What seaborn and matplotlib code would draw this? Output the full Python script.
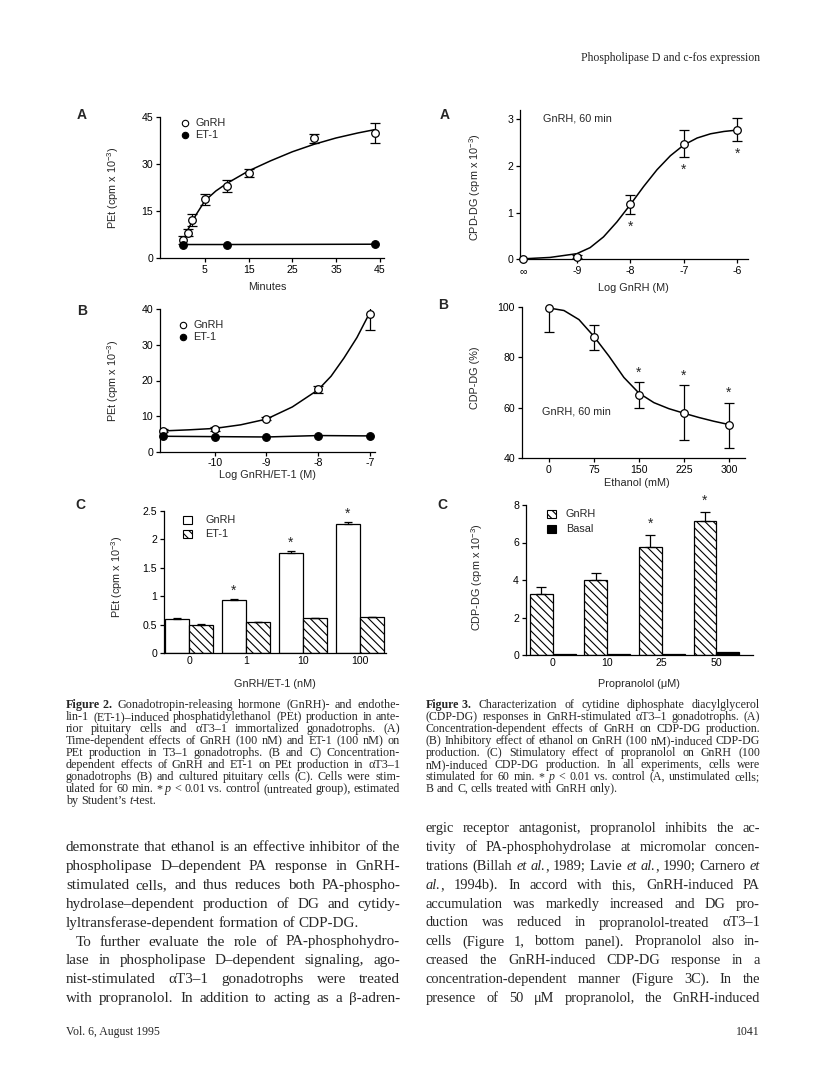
import numpy as np
import pandas as pd
import matplotlib
matplotlib.use("Agg")
import matplotlib.pyplot as plt
from matplotlib import transforms
from matplotlib.lines import Line2D
from matplotlib.patches import Rectangle
import seaborn as sns

# ---------------- data ----------------
# Fig 2A: PEt vs time (cpm x 10^-3)
time_min = [0, 1, 2, 5, 10, 15, 30, 44]
pet_gnrh_time = [5.7, 8.1, 12.1, 18.7, 23.0, 27.2, 38.2, 40.0]
pet_gnrh_time_err = [1.3, 1.0, 1.8, 1.8, 2.0, 1.3, 1.5, 3.2]
et1_time_min = [0, 10, 44]
pet_et1_time = [4.3, 4.3, 4.4]
fit_time_min = [0.7, 1, 2, 3, 5, 7.5, 10, 15, 20, 25, 30, 35, 40, 44]
fit_pet_time = [8.0, 8.8, 11.4, 13.9, 18.3, 21.4, 23.8, 27.8, 31.0, 33.9, 36.3, 38.3, 39.9, 41.0]

# Fig 2B: PEt vs log dose
log_dose = [-11, -10, -9, -8, -7]
pet_gnrh_dose = [6.0, 6.5, 9.3, 17.6, 38.5]
pet_gnrh_dose_err = [0.3, 0.5, 0.4, 1.0, 4.4]
pet_et1_dose = [4.4, 4.3, 4.2, 4.6, 4.5]
fit_log_dose = [-11, -10.5, -10, -9.5, -9, -8.5, -8, -7.75, -7.5, -7.25, -7.05]
fit_pet_dose = [5.9, 6.2, 6.6, 7.6, 9.2, 12.6, 17.4, 21.2, 26.3, 32.0, 37.6]

# Fig 2C: PEt in pituitary cells (bars)
dose_nm = ["0", "1", "10", "100"]
pet_gnrh_bar = [0.60, 0.93, 1.76, 2.27]
pet_gnrh_bar_err = [0.01, 0.02, 0.03, 0.04]
pet_et1_bar = [0.50, 0.54, 0.62, 0.63]
pet_et1_bar_err = [0.005, 0.005, 0.005, 0.005]
stars_2c = ["1", "10", "100"]

# Fig 3A: CDP-DG vs log GnRH
log_gnrh = [-10, -9, -8, -7, -6]
log_gnrh_labels = ["\u221e", "-9", "-8", "-7", "-6"]
cdp_gnrh = [0.0, 0.06, 1.18, 2.48, 2.78]
cdp_gnrh_err = [0.0, 0.03, 0.20, 0.29, 0.24]
stars_3a = [-8, -7, -6]
fit_log_gnrh = [-10, -9.5, -9, -8.75, -8.5, -8.25, -8, -7.75, -7.5, -7.25, -7, -6.75, -6.5, -6.25, -6]
fit_cdp_gnrh = [0.01, 0.04, 0.12, 0.25, 0.48, 0.80, 1.17, 1.56, 1.92, 2.22, 2.45, 2.60, 2.69, 2.74, 2.77]

# Fig 3B: CDP-DG (%) vs ethanol
ethanol_mm = [0, 75, 150, 225, 300]
cdp_pct = [99.5, 88.0, 65.0, 58.0, 53.0]
cdp_pct_err = [9.5, 5.0, 5.0, 11.0, 9.0]
stars_3b = [150, 225, 300]
fit_ethanol_mm = [0, 25, 50, 75, 100, 125, 150, 175, 200, 225, 250, 275, 300]
fit_cdp_pct = [99.6, 98.6, 95.0, 88.3, 80.5, 72.0, 65.8, 62.0, 59.6, 57.8, 56.1, 54.6, 53.3]

# Fig 3C: CDP-DG vs propranolol (bars)
propranolol_um = ["0", "10", "25", "50"]
cdp_prop_gnrh = [3.25, 4.00, 5.78, 7.15]
cdp_prop_gnrh_err = [0.40, 0.38, 0.62, 0.50]
cdp_prop_basal = [0.05, 0.05, 0.08, 0.18]
stars_3c = ["25", "50"]

# ---------------- page text ----------------
header = "Phospholipase D and c-fos expression"
footer_left = "Vol. 6, August 1995"
footer_right = "1041"

# '#' bold, '_' italic, '~' glues pieces of one word
caption_fig2 = [
    "#Figure~#\u00a02. Gonadotropin-releasing hormone (GnRH)- and endothe-",
    "lin-1 (ET-1)\u2013induced phosphatidylethanol (PEt) production in ante-",
    "rior pituitary cells and \u03b1T3\u20131 immortalized gonadotrophs. (A)",
    "Time-dependent effects of GnRH (100 nM) and ET-1 (100 nM) on",
    "PEt production in T3\u20131 gonadotrophs. (B and C) Concentration-",
    "dependent effects of GnRH and ET-1 on PEt production in \u03b1T3\u20131",
    "gonadotrophs (B) and cultured pituitary cells (C). Cells were stim-",
    "ulated for 60 min. * _p < 0.01 vs. control (untreated group), estimated",
    "by Student\u2019s _t~-test.",
]
caption_fig3 = [
    "#Figure~#\u00a03. Characterization of cytidine diphosphate diacylglycerol",
    "(CDP-DG) responses in GnRH-stimulated \u03b1T3\u20131 gonadotrophs. (A)",
    "Concentration-dependent effects of GnRH on CDP-DG production.",
    "(B) Inhibitory effect of ethanol on GnRH (100 nM)-induced CDP-DG",
    "production. (C) Stimulatory effect of propranolol on GnRH (100",
    "nM)-induced CDP-DG production. In all experiments, cells were",
    "stimulated for 60 min. * _p < 0.01 vs. control (A, unstimulated cells;",
    "B and C, cells treated with GnRH only).",
]
body_left = [
    "demonstrate that ethanol is an effective inhibitor of the",
    "phospholipase D\u2013dependent PA response in GnRH-",
    "stimulated cells, and thus reduces both PA-phospho-",
    "hydrolase\u2013dependent production of DG and cytidy-",
    "lyltransferase-dependent formation of CDP-DG.",
    "To further evaluate the role of PA-phosphohydro-",
    "lase in phospholipase D\u2013dependent signaling, ago-",
    "nist-stimulated \u03b1T3\u20131 gonadotrophs were treated",
    "with propranolol. In addition to acting as a \u03b2-adren-",
]
body_right = [
    "ergic receptor antagonist, propranolol inhibits the ac-",
    "tivity of PA-phosphohydrolase at micromolar concen-",
    "trations (Billah _et _al.~, 1989; Lavie _et _al.~, 1990; Carnero _et",
    "_al.~, 1994b). In accord with this, GnRH-induced PA",
    "accumulation was markedly increased and DG pro-",
    "duction was reduced in propranolol-treated \u03b1T3\u20131",
    "cells (Figure 1, bottom panel). Propranolol also in-",
    "creased the GnRH-induced CDP-DG response in a",
    "concentration-dependent manner (Figure 3C). In the",
    "presence of 50 \u03bcM propranolol, the GnRH-induced",
]

# ---------------- style ----------------
sns.set_style("ticks")
SANS = ["Liberation Sans", "DejaVu Sans"]
SERIF = ["Liberation Serif", "DejaVu Serif"]
plt.rcParams["font.family"] = SANS
plt.rcParams["mathtext.fontset"] = "custom"
plt.rcParams["mathtext.rm"] = "Liberation Sans"
plt.rcParams["hatch.linewidth"] = 0.8
plt.rcParams["axes.edgecolor"] = "black"
plt.rcParams["xtick.color"] = "black"
plt.rcParams["ytick.color"] = "black"

W, H = 816, 1090
fig = plt.figure(figsize=(W / 100, H / 100), dpi=100)
fig.patch.set_facecolor("white")
renderer = fig.canvas.get_renderer()


def fx(x):
    return x / W


def fy(y):
    return 1 - y / H


def add_ax(x0, y0, x1, y1):
    ax = fig.add_axes([fx(x0), fy(y1), (x1 - x0) / W, (y1 - y0) / H])
    ax.set_facecolor("none")
    sns.despine(ax=ax)
    ax.spines["left"].set_linewidth(0.9)
    ax.spines["bottom"].set_linewidth(0.9)
    ax.tick_params(direction="out", length=3, width=0.9, labelsize=7.6, pad=2)
    return ax


def label(x, y, s, size=7.8, rot=0, **kw):
    fig.text(fx(x), fy(y), s, ha="center", va="center", rotation=rot,
             fontsize=size, family=SANS, **kw)


def panel_letter(x, y, s):
    label(x, y, s, size=10, fontweight="bold")


def errbars(ax, x, y, lo, hi, cap=3.5):
    ax.errorbar(x, y, yerr=[lo, hi], fmt="none", ecolor="black",
                elinewidth=0.9, capsize=cap, capthick=0.9, zorder=2)


def open_points(ax, x, y):
    sns.scatterplot(x=x, y=y, ax=ax, s=30, color="white", edgecolor="black",
                    linewidth=0.9, zorder=4, clip_on=False, legend=False)


def filled_points(ax, x, y):
    sns.scatterplot(x=x, y=y, ax=ax, s=30, color="black", edgecolor="black",
                    linewidth=0.9, zorder=4, clip_on=False, legend=False)


def curve(ax, x, y):
    sns.lineplot(x=x, y=y, ax=ax, color="black", linewidth=1.1,
                 estimator=None, sort=False, zorder=3)


def star(ax, x, y):
    tr = transforms.offset_copy(ax.transData, x=0, y=-3, units="dots")
    ax.text(x, y, "*", ha="center", va="center", fontsize=10,
            transform=tr, clip_on=False)


def marker_legend(x, y, text, filled):
    fig.add_artist(Line2D([fx(x)], [fy(y)], transform=fig.transFigure,
                          marker="o", markersize=4.6, linestyle="none",
                          mfc="black" if filled else "white", mec="black", mew=0.8))
    fig.text(fx(x + 10), fy(y), text, ha="left", va="center", fontsize=7.8, family=SANS)


def box_legend(x, y, text, face, hatch=None, tx=None):
    fig.add_artist(Rectangle((fx(x), fy(y + 4)), 9 / W, 8 / H, transform=fig.transFigure,
                             facecolor=face, edgecolor="black", linewidth=0.8, hatch=hatch))
    fig.text(fx(tx), fy(y), text, ha="left", va="center", fontsize=7.8, family=SANS)


def plain_ticklabels(ax, axis, ticks, labels):
    if axis == "x":
        ax.set_xticks(ticks)
        ax.set_xticklabels(labels)
    else:
        ax.set_yticks(ticks)
        ax.set_yticklabels(labels)


YL = "(cpm x 10$^{-3}$)"

# ---------------- Fig 2A ----------------
ax = add_ax(160, 117, 384, 258)
curve(ax, fit_time_min, fit_pet_time)
curve(ax, et1_time_min, pet_et1_time)
errbars(ax, time_min, pet_gnrh_time, pet_gnrh_time_err, pet_gnrh_time_err)
open_points(ax, time_min, pet_gnrh_time)
filled_points(ax, et1_time_min, pet_et1_time)
ax.set_xlim(-5.3, 46)
ax.set_ylim(0, 45)
plain_ticklabels(ax, "x", [5, 15, 25, 35, 45], ["5", "15", "25", "35", "45"])
plain_ticklabels(ax, "y", [0, 15, 30, 45], ["0", "15", "30", "45"])
ax.set_xlabel("")
ax.set_ylabel("")
label(267, 287, "Minutes")
label(113, 188, "PEt " + YL, rot=90)
panel_letter(82, 115, "A")
marker_legend(185, 123, "GnRH", False)
marker_legend(185, 134.5, "ET-1", True)

# ---------------- Fig 2B ----------------
ax = add_ax(160, 309, 375, 452)
curve(ax, fit_log_dose, fit_pet_dose)
curve(ax, log_dose, pet_et1_dose)
errbars(ax, log_dose, pet_gnrh_dose, pet_gnrh_dose_err, pet_gnrh_dose_err)
open_points(ax, log_dose, pet_gnrh_dose)
filled_points(ax, log_dose, pet_et1_dose)
ax.set_xlim(-11.06, -6.9)
ax.set_ylim(0, 40)
plain_ticklabels(ax, "x", [-10, -9, -8, -7], ["-10", "-9", "-8", "-7"])
plain_ticklabels(ax, "y", [0, 10, 20, 30, 40], ["0", "10", "20", "30", "40"])
ax.tick_params(axis="x", pad=1)
ax.set_xlabel("")
ax.set_ylabel("")
label(267, 475, "Log GnRH/ET-1 (M)")
label(113, 381, "PEt " + YL, rot=90)
panel_letter(82, 311, "B")
marker_legend(183, 324.5, "GnRH", False)
marker_legend(183, 336.5, "ET-1", True)

# ---------------- Fig 2C ----------------
ax = add_ax(164, 511, 386, 653)
df2c = pd.DataFrame({
    "dose": dose_nm + dose_nm,
    "agent": ["GnRH"] * len(dose_nm) + ["ET-1"] * len(dose_nm),
    "pet": pet_gnrh_bar + pet_et1_bar,
})
sns.barplot(data=df2c, x="dose", y="pet", hue="agent", hue_order=["GnRH", "ET-1"],
            palette={"GnRH": "white", "ET-1": "white"}, saturation=1,
            edgecolor="black", linewidth=0.9, width=0.84, gap=0,
            errorbar=None, legend=False, ax=ax)
for bar in ax.containers[1]:
    bar.set_hatch("\\\\\\\\")
xpos = np.arange(len(dose_nm))
errbars(ax, xpos - 0.21, pet_gnrh_bar, [0] * 4, pet_gnrh_bar_err, cap=3)
errbars(ax, xpos + 0.21, pet_et1_bar, [0] * 4, pet_et1_bar_err, cap=3)
for d in stars_2c:
    i = dose_nm.index(d)
    star(ax, i - 0.21, pet_gnrh_bar[i] + pet_gnrh_bar_err[i] + 0.2)
ax.set_xlim(-0.44, 3.46)
ax.set_ylim(0, 2.5)
ax.tick_params(axis="x", length=0)
plain_ticklabels(ax, "y", [0, 0.5, 1, 1.5, 2, 2.5], ["0", "0.5", "1", "1.5", "2", "2.5"])
ax.set_xlabel("")
ax.set_ylabel("")
label(275, 684, "GnRH/ET-1 (nM)")
label(117, 577, "PEt " + YL, rot=90)
panel_letter(80, 505, "C")
box_legend(183, 520, "GnRH", "white", tx=205)
box_legend(183, 534, "ET-1", "white", hatch="\\\\\\\\", tx=205)

# ---------------- Fig 3A ----------------
ax = add_ax(520, 110, 748, 259.3)
curve(ax, fit_log_gnrh, fit_cdp_gnrh)
errbars(ax, log_gnrh, cdp_gnrh, cdp_gnrh_err, cdp_gnrh_err)
open_points(ax, log_gnrh, cdp_gnrh)
for xv in stars_3a:
    i = log_gnrh.index(xv)
    star(ax, xv, cdp_gnrh[i] - cdp_gnrh_err[i] - 0.21)
ax.set_xlim(-10.06, -5.8)
ax.set_ylim(0, 3.2)
plain_ticklabels(ax, "x", log_gnrh, log_gnrh_labels)
plain_ticklabels(ax, "y", [0, 1, 2, 3], ["0", "1", "2", "3"])
ax.set_xlabel("")
ax.set_ylabel("")
label(633, 288, "Log GnRH (M)")
label(475, 187, "CPD-DG " + YL, rot=90)
panel_letter(445, 115, "A")
fig.text(fx(543), fy(118), "GnRH, 60 min", ha="left", va="center", fontsize=7.8, family=SANS)

# ---------------- Fig 3B ----------------
ax = add_ax(522, 307, 745, 458)
curve(ax, fit_ethanol_mm, fit_cdp_pct)
errbars(ax, ethanol_mm, cdp_pct, cdp_pct_err, cdp_pct_err)
open_points(ax, ethanol_mm, cdp_pct)
for xv in stars_3b:
    i = ethanol_mm.index(xv)
    star(ax, xv, cdp_pct[i] + cdp_pct_err[i] + 5)
ax.set_xlim(-45, 327)
ax.set_ylim(40, 100)
plain_ticklabels(ax, "x", ethanol_mm, [str(v) for v in ethanol_mm])
plain_ticklabels(ax, "y", [40, 60, 80, 100], ["40", "60", "80", "100"])
ax.set_xlabel("")
ax.set_ylabel("")
label(637, 483, "Ethanol (mM)")
label(475, 378, "CDP-DG (%)", rot=90)
panel_letter(443, 305, "B")
fig.text(fx(542), fy(412), "GnRH, 60 min", ha="left", va="center", fontsize=7.8, family=SANS)

# ---------------- Fig 3C ----------------
ax = add_ax(526, 505, 753, 655)
df3c = pd.DataFrame({
    "dose": propranolol_um + propranolol_um,
    "group": ["GnRH"] * len(propranolol_um) + ["Basal"] * len(propranolol_um),
    "cdp": cdp_prop_gnrh + cdp_prop_basal,
})
sns.barplot(data=df3c, x="dose", y="cdp", hue="group", hue_order=["GnRH", "Basal"],
            palette={"GnRH": "white", "Basal": "black"}, saturation=1,
            edgecolor="black", linewidth=0.9, width=0.84, gap=0,
            errorbar=None, legend=False, ax=ax)
for bar in ax.containers[0]:
    bar.set_hatch("\\\\\\\\")
xpos = np.arange(len(propranolol_um))
errbars(ax, xpos - 0.21, cdp_prop_gnrh, [0] * 4, cdp_prop_gnrh_err, cap=3.5)
for d in stars_3c:
    i = propranolol_um.index(d)
    star(ax, i - 0.21, cdp_prop_gnrh[i] + cdp_prop_gnrh_err[i] + 0.75)
ax.set_xlim(-0.49, 3.67)
ax.set_ylim(0, 8)
ax.tick_params(axis="x", length=0)
plain_ticklabels(ax, "y", [0, 2, 4, 6, 8], ["0", "2", "4", "6", "8"])
ax.set_xlabel("")
ax.set_ylabel("")
label(639, 684, "Propranolol (\u03bcM)")
label(477, 577, "CDP-DG " + YL, rot=90)
panel_letter(442, 505, "C")
box_legend(547, 514, "GnRH", "white", hatch="\\\\\\\\", tx=566)
box_legend(547, 528.5, "Basal", "black", tx=566)


# ---------------- justified page text ----------------
def make_words(line, size, y):
    words = []
    for token in line.split(" "):
        if not token:
            continue
        segs = []
        for part in token.split("~"):
            weight, style = "normal", "normal"
            if part.startswith("#"):
                weight, part = "bold", part[1:]
            if part.startswith("_"):
                style, part = "italic", part[1:]
            t = fig.text(0, fy(y), part, fontsize=size, family=SERIF,
                         fontweight=weight, fontstyle=style, va="baseline", ha="left")
            segs.append((t, t.get_window_extent(renderer).width))
        words.append(segs)
    return words


def natural_width(line, size):
    words = make_words(line, size, 0)
    w = sum(sum(s[1] for s in segs) for segs in words)
    for segs in words:
        for t, _ in segs:
            t.remove()
    return w + (len(words) - 1) * 0.25 * size * 100 / 72


def text_block(lines, x0, x1, y0, dy, ragged=(), indent=None, size=None):
    indent = indent or {}
    if size is None:
        ratios = [natural_width(l, 10) / (x1 - x0 - indent.get(i, 0))
                  for i, l in enumerate(lines) if i not in ragged]
        size = 10 * 0.995 / max(ratios)
    space = 0.25 * size * 100 / 72
    for k, line in enumerate(lines):
        y = y0 + k * dy
        words = make_words(line, size, y)
        widths = [sum(s[1] for s in segs) for segs in words]
        start = x0 + indent.get(k, 0)
        if k in ragged or len(words) < 2:
            gap = space
        else:
            gap = (x1 - start - sum(widths)) / (len(words) - 1)
        x = start
        for segs, w in zip(words, widths):
            xs = x
            for t, sw in segs:
                t.set_x(fx(xs))
                xs += sw
            x += w + gap
    return size


fig.text(fx(760), fy(61), header, ha="right", va="baseline", fontsize=8.5, family=SERIF)
text_block(caption_fig2, 66, 400, 708, 12.0, ragged=(8,))
text_block(caption_fig3, 426, 760, 708, 12.0, ragged=(7,))
text_block(body_left, 66, 400, 851, 18.9, ragged=(4,), indent={5: 10})
text_block(body_right, 426, 760, 832, 18.9)
fig.text(fx(66), fy(1035), footer_left, ha="left", va="baseline", fontsize=8.5, family=SERIF)
fig.text(fx(760), fy(1035), footer_right, ha="right", va="baseline", fontsize=8.5, family=SERIF)

fig.savefig("out.png", dpi=100, facecolor="white")
